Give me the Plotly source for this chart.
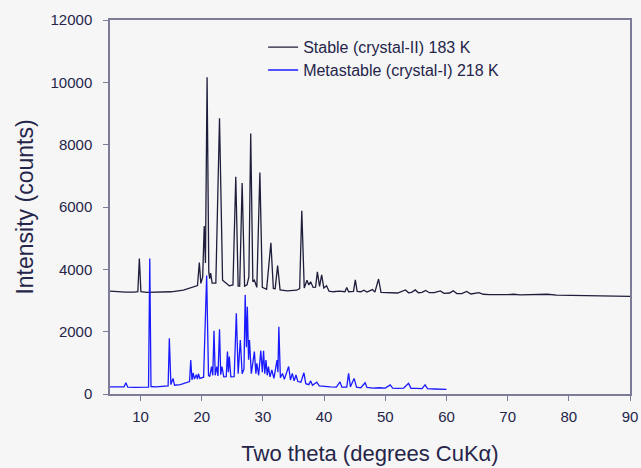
import plotly.graph_objects as go

# Stable (crystal-II) 183 K : two-theta / intensity vertices
stable_x = [5.0, 6.0, 7.5, 9.0, 9.55, 9.8, 10.05, 11.0, 12.6, 15.0, 17.0, 18.5, 19.3, 19.6, 19.85,
            20.15, 20.4, 20.6, 20.87, 21.15, 21.3, 21.45, 21.7, 22.3, 22.9, 23.4, 24.5, 25.1,
            25.56, 25.95, 26.2, 26.6, 27.0, 27.4, 27.7, 28.0, 28.35, 28.6, 29.0, 29.5, 29.9,
            30.6, 31.3, 31.7, 32.0, 32.4, 32.8, 34.0, 35.5, 36.0, 36.35, 36.75, 37.2, 37.5,
            37.8, 38.2, 38.6, 38.9, 39.25, 39.6, 39.95, 40.4, 40.8, 41.5, 42.5, 43.4, 43.7,
            44.0, 44.8, 45.1, 45.4, 46.0, 46.5, 47.0, 47.9, 48.3, 48.9, 49.3, 50.0, 51.0, 52.0,
            53.3, 53.8, 54.3, 54.9, 55.4, 56.0, 56.6, 57.2, 58.0, 59.0, 59.6, 60.5, 61.1, 61.7,
            62.5, 63.3, 64.0, 65.3, 66.0, 67.0, 70.0, 71.0, 72.0, 75.0, 76.5, 78.0, 80.0, 83.0,
            85.0, 88.0, 90.0]
stable_y = [3300, 3280, 3270, 3270, 3280, 4350, 3280, 3260, 3260, 3280, 3330, 3420, 3480, 4220, 3550,
            3750, 5390, 4200, 10160, 3900, 3700, 3880, 3560, 3560, 8850, 3650, 3470, 3500,
            6970, 3460, 3460, 6770, 3460, 3500, 3760, 8360, 3600, 3650, 3420, 7110, 3420,
            3360, 4850, 3390, 3380, 4120, 3340, 3310, 3330, 3380, 5880, 3400, 3650, 3500,
            3600, 3420, 3430, 3920, 3450, 3820, 3400, 3470, 3300, 3280, 3300, 3280, 3420,
            3280, 3290, 3660, 3290, 3280, 3330, 3270, 3350, 3270, 3690, 3260, 3250, 3240, 3240,
            3340, 3250, 3260, 3340, 3250, 3260, 3320, 3250, 3250, 3310, 3230, 3240, 3310, 3220,
            3220, 3290, 3210, 3250, 3200, 3190, 3190, 3200, 3180, 3180, 3200, 3170, 3160, 3160,
            3150, 3140, 3130]

# Metastable (crystal-I) 218 K
meta_x = [5.0, 6.5, 7.3, 7.6, 7.9, 9.0, 10.5, 11.3, 11.5, 11.7, 12.5, 13.5, 14.5, 14.7, 14.95,
          15.3, 15.55, 16.5, 17.5, 18.0, 18.2, 18.4, 18.6, 18.8, 19.1, 19.3, 19.45, 19.7, 20.3,
          20.8, 21.1, 21.3, 21.6, 21.8, 22.0, 22.2, 22.45, 22.65, 22.9, 23.1, 23.3, 23.6, 24.0,
          24.2, 24.35, 24.5, 24.75, 25.3, 25.65, 25.95, 26.3, 26.6, 26.9, 27.1, 27.3, 27.45,
          27.65, 27.8, 28.1, 28.6, 28.85, 29.0, 29.3, 29.65, 29.9, 30.1, 30.3, 30.5, 30.7, 30.9,
          31.15, 31.45, 31.8, 32.3, 32.45, 32.6, 32.85, 33.2, 33.5, 34.2, 34.5, 34.8, 35.1, 35.4,
          35.7, 36.2, 36.7, 37.0, 37.5, 37.8, 38.1, 38.8, 39.2, 40.0, 41.0, 42.0, 42.6, 42.9,
          43.7, 44.0, 44.3, 44.9, 45.3, 46.0, 46.7, 47.0, 48.0, 49.0, 50.0, 50.8, 51.2, 52.0,
          53.0, 53.8, 54.2, 55.0, 56.0, 56.5, 56.9, 58.0, 59.0, 60.0]
meta_y = [230, 220, 230, 360, 220, 210, 210, 220, 4350, 240, 230, 240, 260, 1790, 300,
          500, 280, 300, 360, 400, 1090, 450, 680, 480, 620, 480, 650, 500, 540,
          3800, 600, 560, 880, 600, 2030, 600, 880, 580, 2080, 620, 880, 550, 560,
          1360, 700, 1200, 550, 560, 2590, 650, 1730, 650, 800, 3180, 1500, 2800,
          1100, 1730, 650, 1360, 650, 985, 600, 1390, 700, 1390, 650, 1090, 600, 880,
          550, 770, 500, 1090, 700, 2160, 520, 660, 470, 880, 450, 660, 420, 610,
          400, 380, 680, 330, 300, 420, 280, 380, 260, 240, 230, 220, 390, 220,
          220, 660, 230, 500, 220, 200, 360, 210, 190, 200, 190, 290, 190, 180,
          190, 340, 180, 180, 170, 290, 170, 160, 150, 150]

x_ticks = [10, 20, 30, 40, 50, 60, 70, 80, 90]
y_ticks = [0, 2000, 4000, 6000, 8000, 10000, 12000]
y_tick_text = ["0", "2000", "4000", "6000", "8000", "10000", "12000"]

TEXT = "#25254a"
AXIS = "#7c7c98"
FONT = "Arial, Liberation Sans, sans-serif"

fig = go.Figure()
fig.add_trace(go.Scatter(x=stable_x, y=stable_y, mode="lines",
                         name="Stable (crystal-II) 183 K", legend="legend",
                         line=dict(color="#1e1e3c", width=1.3)))
fig.add_trace(go.Scatter(x=meta_x, y=meta_y, mode="lines",
                         name="Metastable (crystal-I) 218 K", legend="legend2",
                         line=dict(color="#1a1aff", width=1.3)))

leg_common = dict(x=0.2945, xanchor="left", yanchor="middle",
                  bgcolor="rgba(0,0,0,0)", font=dict(size=16, color=TEXT, family=FONT),
                  itemwidth=30)

fig.update_layout(
    width=641, height=468,
    margin=dict(l=110, r=11, t=20, b=74),
    paper_bgcolor="#f6f6f6", plot_bgcolor="#f6f6f6",
    font=dict(family=FONT, size=15, color=TEXT),
    showlegend=True,
    legend=dict(y=0.927, **leg_common),
    legend2=dict(y=0.866, **leg_common),
)
fig.update_xaxes(range=[5, 90], tickvals=x_ticks, ticks="outside", ticklen=5,
                 tickcolor=AXIS, showline=True, linecolor=AXIS, linewidth=1.5, mirror=True,
                 showgrid=False, zeroline=False, automargin=False, ticklabelstandoff=3,
                 tickfont=dict(size=15, color=TEXT),
                 title=dict(text="Two theta (degrees CuKα)", font=dict(size=22, color=TEXT),
                            standoff=22))
fig.update_yaxes(range=[0, 12000], tickvals=y_ticks, ticktext=y_tick_text,
                 ticks="outside", ticklen=5,
                 tickcolor=AXIS, showline=True, linecolor=AXIS, linewidth=1.5, mirror=True,
                 showgrid=False, zeroline=False, automargin=False, ticklabelstandoff=8,
                 tickfont=dict(size=15, color=TEXT),
                 title=dict(text="Intensity (counts)", font=dict(size=23, color=TEXT),
                            standoff=10))

fig.write_html("out.html")
